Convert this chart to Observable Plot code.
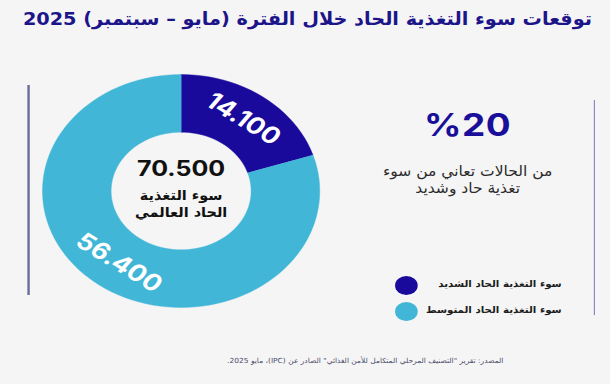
<!DOCTYPE html>
<html><head><meta charset="utf-8">
<script src="https://cdn.jsdelivr.net/npm/d3@7"></script>
<script src="https://cdn.jsdelivr.net/npm/@observablehq/plot@0.6"></script>
<style>
html,body{margin:0;padding:0;background:#f5f5f5;}
body{width:610px;height:384px;overflow:hidden;position:relative;}
#stage{position:absolute;left:0;top:0;width:512px;height:384px;transform:scale(1.19,1);transform-origin:0 0;font-family:Inter,"DejaVu Sans Condensed","DejaVu Sans",sans-serif;}
#chart{position:absolute;left:0;top:0;}
.ar{font-family:"DejaVu Sans Condensed","DejaVu Sans",sans-serif;}
#title{position:absolute;right:14.5px;top:8px;white-space:nowrap;font-weight:bold;font-size:18px;color:#1c1489;}
.vline{position:absolute;width:1.5px;}
#lineL{left:23px;top:85px;height:210px;background:#6b6b9b;}
#lineR{left:498.5px;top:100px;height:215px;background:#8c88c8;}
#big{position:absolute;left:293px;width:200px;top:106px;text-align:center;font-weight:bold;font-size:31px;color:#1a0f9a;letter-spacing:0.5px;}
#desc{position:absolute;left:293px;width:200px;top:163px;text-align:center;font-size:14.5px;line-height:17px;color:#2a2a2a;}
#legend{position:absolute;left:332px;top:275px;width:140px;}
.row{position:relative;height:26px;}
.sw{position:absolute;left:0;top:1px;width:19px;height:19px;border-radius:50%;}
.lab{position:absolute;right:0;top:3px;font-weight:bold;font-size:9.6px;color:#1d1d1d;white-space:nowrap;}
#source{position:absolute;right:89px;top:357px;font-size:7px;color:#4a4a6a;white-space:nowrap;}
</style></head>
<body>
<div id="stage">
<div id="chart"></div>
<div id="title" class="ar" dir="rtl"></div>
<div class="vline" id="lineL"></div>
<div class="vline" id="lineR"></div>
<div id="big" dir="ltr"></div>
<div id="desc" class="ar" dir="rtl"></div>
<div id="legend" class="ar" dir="rtl"></div>
<div id="source" class="ar" dir="rtl"></div>
</div>
<script>
const titleText = "توقعات سوء التغذية الحاد خلال الفترة (مايو – سبتمبر) 2025";
const categories = ["سوء التغذية الحاد الشديد", "سوء التغذية الحاد المتوسط"];
const values = [14100, 56400];
const colors = ["#1a0a9c", "#41b6d7"];
const totalValue = 70500;
const centerLines = ["سوء التغذية", "الحاد العالمي"];
const shareText = "%20";
const shareLines = ["من الحالات تعاني من سوء", "تغذية حاد وشديد"];
const sourceText = "المصدر: تقرير \"التصنيف المرحلي المتكامل للأمن الغذائي\" الصادر عن (IPC)، مايو 2025.";

const innerFrac = 0.505;
const fmt = d3.formatLocale({decimal: ",", thousands: ".", grouping: [3], currency: ["", ""]}).format(",");

const table = categories.map((c, i) => ({category: c, value: values[i]}));
const arcs = d3.pie().sort(null).value(d => d.value)(table);

// ring polygons built from the pie angles
const ring = [];
const N = 120;
for (const a of arcs) {
  const seg = a.data.category;
  const steps = Math.max(2, Math.round(N * (a.endAngle - a.startAngle) / (2 * Math.PI)));
  for (let k = 0; k <= steps; k++) {
    const t = a.startAngle + (a.endAngle - a.startAngle) * k / steps;
    ring.push({category: seg, x: Math.sin(t), y: Math.cos(t)});
  }
  for (let k = steps; k >= 0; k--) {
    const t = a.startAngle + (a.endAngle - a.startAngle) * k / steps;
    ring.push({category: seg, x: innerFrac * Math.sin(t), y: innerFrac * Math.cos(t)});
  }
}

const labelR = (1 + innerFrac) / 2 + 0.01;
const labels = arcs.map(a => {
  const m = (a.startAngle + a.endAngle) / 2;
  let deg = m * 180 / Math.PI;
  if (deg > 90 && deg < 270) deg -= 180;
  return {x: labelR * Math.sin(m), y: labelR * Math.cos(m), rot: deg, text: fmt(a.data.value)};
});

const chart = Plot.plot({
  width: 512, height: 384, margin: 0,
  x: {domain: [-1, 1], range: [35.2, 268.2], axis: null},
  y: {domain: [-1, 1], range: [307, 74], axis: null},
  color: {domain: categories, range: colors},
  style: {background: "transparent", overflow: "visible"},
  marks: [
    Plot.line(ring, {x: "x", y: "y", z: "category", fill: "category", stroke: "category", strokeWidth: 0.4, curve: "linear"}),
    Plot.text(labels, {x: "x", y: "y", text: "text", rotate: "rot", fill: "white", fontSize: 23, fontWeight: "bold", fontFamily: "Inter, 'DejaVu Sans', sans-serif"}),
    Plot.text([{x: 0, y: 0, t: fmt(totalValue)}], {x: "x", y: "y", text: "t", dy: -22, fill: "#111", fontSize: 21, fontWeight: "bold", fontFamily: "Inter, 'DejaVu Sans', sans-serif"}),
    Plot.text([{x: 0, y: 0, t: centerLines.join("\n")}], {x: "x", y: "y", text: "t", dy: 12, lineHeight: 1.3, fill: "#111", fontSize: 13.5, fontWeight: "bold", fontFamily: "'DejaVu Sans Condensed', 'DejaVu Sans', sans-serif"})
  ]
});
document.getElementById("chart").appendChild(chart);

document.getElementById("title").textContent = titleText;
document.getElementById("big").textContent = shareText;
document.getElementById("desc").innerHTML = shareLines.join("<br>");
document.getElementById("source").textContent = sourceText;
const leg = document.getElementById("legend");
categories.forEach((c, i) => {
  const row = document.createElement("div");
  row.className = "row";
  row.innerHTML = `<span class="sw" style="background:${colors[i]}"></span><span class="lab">${c}</span>`;
  leg.appendChild(row);
});
</script>
</body></html>
